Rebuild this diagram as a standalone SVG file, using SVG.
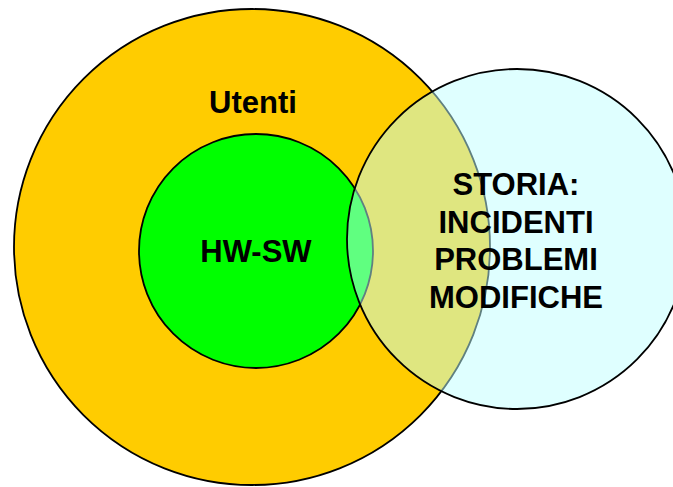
<svg xmlns="http://www.w3.org/2000/svg" width="673" height="487" viewBox="0 0 673 487">
<style>
.c{stroke:#000;stroke-width:1.8}
.t{font-family:"Liberation Sans",Arial,sans-serif;font-weight:bold;font-size:31px;fill:#000;text-anchor:middle}
</style>
<rect width="673" height="487" fill="#fff"/>
<g id="utenti">
<circle class="c" cx="252" cy="247" r="238" fill="#FFCC00"/>
<text class="t" x="253" y="113">Utenti</text>
</g>
<g id="hwsw">
<circle class="c" cx="256" cy="251" r="117" fill="#00FF00"/>
<text class="t" x="256" y="262">HW-SW</text>
</g>
<g id="storia">
<circle class="c" cx="517" cy="239" r="170" fill="#C0FFFF" fill-opacity="0.5" stroke-opacity="1"/>
<text class="t" x="516" y="195">STORIA:</text>
<text class="t" x="516" y="232.5">INCIDENTI</text>
<text class="t" x="516" y="270">PROBLEMI</text>
<text class="t" x="516" y="307.5">MODIFICHE</text>
</g>
<g id="connectors"/>
</svg>
